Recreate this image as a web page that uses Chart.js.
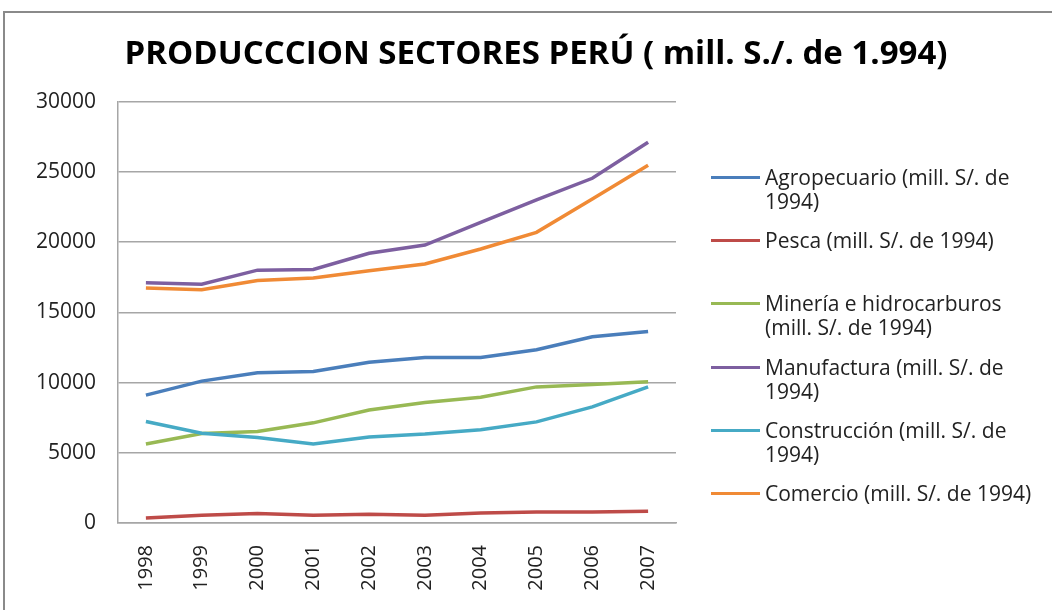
<!DOCTYPE html>
<html>
<head>
<meta charset="utf-8">
<script src="https://cdn.jsdelivr.net/npm/chart.js@4"></script>
<style>
  html, body { margin: 0; padding: 0; background: #fff; overflow: hidden; }
  #wrap { position: relative; width: 1052px; height: 610px; }
  #frame { position: absolute; left: 3px; top: 11px; width: 1100px; height: 700px; border: 2px solid #8a8a8a; box-sizing: border-box; }
  #myChart { position: absolute; left: 0; top: 0; }
  #legend { position: absolute; left: 711px; top: 0; font-family: "Open Sans", sans-serif; font-size: 21px; line-height: 24px; color: #222; }
  .item { position: absolute; left: 0; width: 340px; }
  .item .ln { position: absolute; left: 0; top: 11px; width: 49px; height: 3px; }
  .item .tx { position: absolute; left: 54px; top: 0; width: 276px; }
</style>
</head>
<body>
<div id="wrap">
  <div id="frame"></div>
  <canvas id="myChart" width="1052" height="610"></canvas>
  <div id="legend"></div>
</div>
<script>
const years = ['1998', '1999', '2000', '2001', '2002', '2003', '2004', '2005', '2006', '2007'];

const agropecuario = [9100, 10100, 10700, 10780, 11450, 11780, 11790, 12330, 13260, 13640];
const pesca = [360, 550, 680, 560, 620, 560, 710, 780, 780, 830];
const mineria = [5630, 6370, 6510, 7130, 8050, 8580, 8960, 9690, 9860, 10050];
const manufactura = [17100, 17000, 18000, 18050, 19200, 19790, 21400, 23000, 24540, 27100];
const construccion = [7220, 6390, 6080, 5630, 6130, 6330, 6640, 7200, 8270, 9690];
const comercio = [16730, 16600, 17270, 17440, 17960, 18440, 19510, 20690, 23070, 25470];

const seriesNames = [
  'Agropecuario (mill. S/. de 1994)',
  'Pesca (mill. S/. de 1994)',
  'Minería e hidrocarburos (mill. S/. de 1994)',
  'Manufactura (mill. S/. de 1994)',
  'Construcción (mill. S/. de 1994)',
  'Comercio (mill. S/. de 1994)'
];
const seriesValues = [agropecuario, pesca, mineria, manufactura, construccion, comercio];
const colors = ['#4a7ebb', '#be4b48', '#98b954', '#7d5fa0', '#46aac5', '#f08a35'];

const ctx = document.getElementById('myChart').getContext('2d');

const data = {
  labels: years,
  datasets: seriesNames.map((name, i) => ({
    label: name,
    data: seriesValues[i],
    borderColor: colors[i],
    backgroundColor: colors[i],
    borderWidth: 3.5,
    pointRadius: 0,
    tension: 0,
    order: seriesNames.length - i
  }))
};

const tickFont = { family: 'Open Sans', size: 21 };

const config = {
  type: 'line',
  data: data,
  options: {
    responsive: false,
    animation: false,
    layout: { padding: { left: 20, right: 0, top: 20, bottom: 20 } },
    plugins: {
      legend: { display: false },
      tooltip: { enabled: false },
      title: {
        display: true,
        text: 'PRODUCCCION SECTORES PERÚ ( mill. S./. de 1.994)',
        color: '#000',
        font: { family: 'Open Sans', size: 33, weight: 'bold' },
        padding: { top: 15, bottom: 27 }
      }
    },
    scales: {
      x: {
        offset: true,
        afterFit: (scale) => { scale.height = 67; },
        grid: { display: false, drawTicks: false },
        border: { display: true, color: '#a6a6a6', width: 1.5 },
        ticks: { color: '#222', font: { family: 'Open Sans', size: 20 }, maxRotation: 90, minRotation: 90, padding: 22 }
      },
      y: {
        min: 0,
        max: 30000,
        afterFit: (scale) => { scale.width = 98; },
        grid: { color: '#a6a6a6', lineWidth: 1.5, drawTicks: false },
        border: { display: true, color: '#a6a6a6', width: 1.5 },
        ticks: { stepSize: 5000, color: '#222', font: tickFont, padding: 22, callback: (v) => String(v) }
      },
      legendSpace: {
        position: 'right',
        display: true,
        afterFit: (scale) => { scale.width = 376; },
        grid: { display: false, drawTicks: false },
        border: { display: false },
        ticks: { display: false }
      }
    }
  }
};

const myChart = new Chart(ctx, config);

// legend with wrapped labels, like the original
const legend = document.getElementById('legend');
seriesNames.forEach((name, i) => {
  const item = document.createElement('div');
  item.className = 'item';
  item.style.top = (165 + i * 63.2) + 'px';
  item.innerHTML = '<div class="ln" style="background:' + colors[i] + '"></div><div class="tx">' + name + '</div>';
  legend.appendChild(item);
});
</script>
</body>
</html>
